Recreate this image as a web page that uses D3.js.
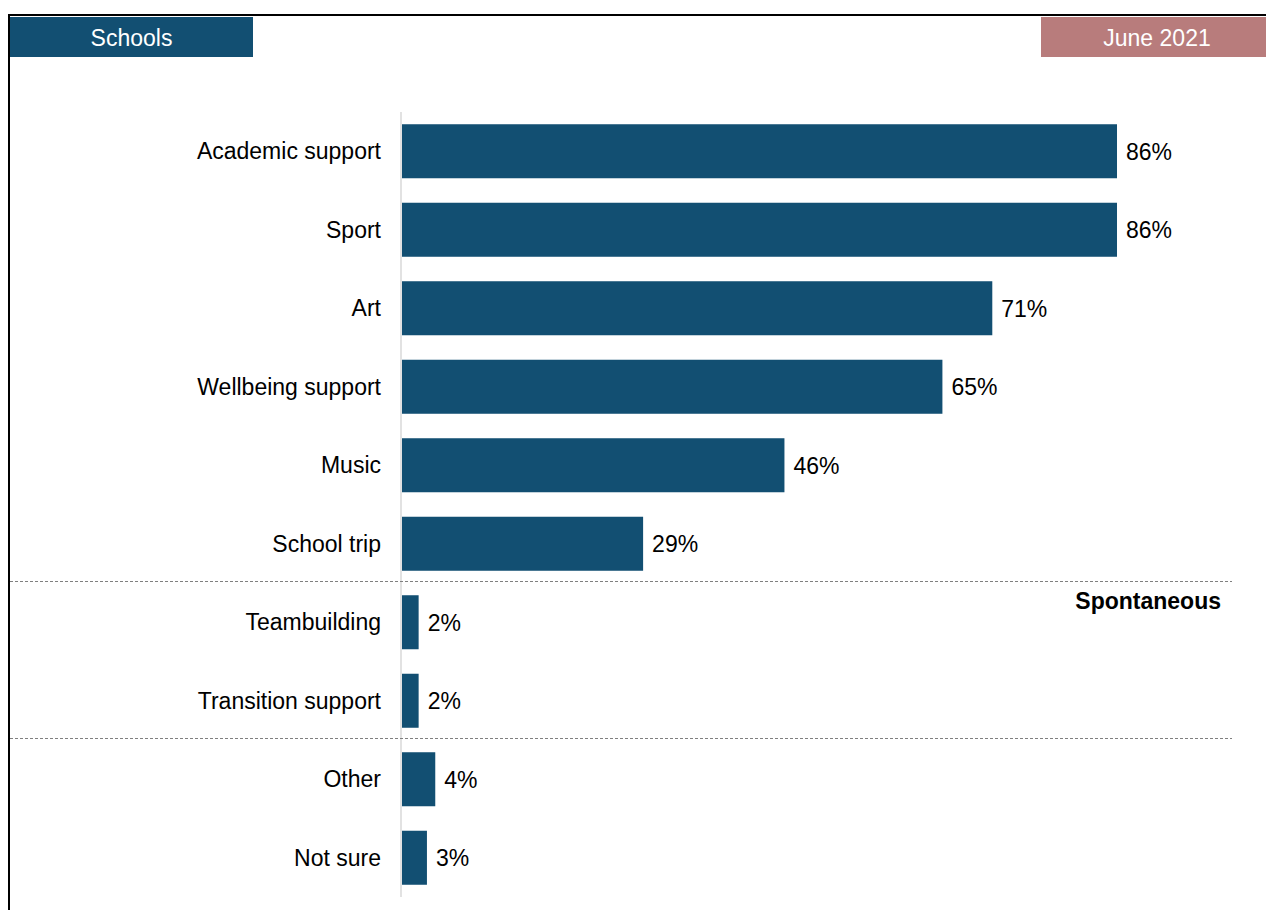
<!DOCTYPE html>
<html>
<head>
<meta charset="utf-8">
<script src="https://cdn.jsdelivr.net/npm/d3@7"></script>
<style>
  html, body { margin: 0; padding: 0; background: #fff; }
  svg { display: block; font-family: "Liberation Sans", Arial, sans-serif; }
</style>
</head>
<body>
<svg id="chart" width="1266" height="910"></svg>
<script>
// Activities offered (share of schools, %)
const categories = [
  "Academic support", "Sport", "Art", "Wellbeing support", "Music",
  "School trip", "Teambuilding", "Transition support", "Other", "Not sure"
];
const values = [86, 86, 71, 65, 46, 29, 2, 2, 4, 3];
// Dashed separators are drawn above these categories
const groupStarts = ["Teambuilding", "Other"];
const groupNote = "Spontaneous";
const headerLeft = "Schools";
const headerRight = "June 2021";

const navy = "#124f72";
const rose = "#b87c7c";
const fontSize = 23;

const svg = d3.select("#chart");

// Frame: top and left rules
svg.append("line").attr("x1", 9).attr("x2", 1266).attr("y1", 15).attr("y2", 15)
  .attr("stroke", "#000").attr("stroke-width", 2);
svg.append("line").attr("x1", 9).attr("x2", 9).attr("y1", 14).attr("y2", 910)
  .attr("stroke", "#000").attr("stroke-width", 2);

// Header tabs
svg.append("rect").attr("x", 10).attr("y", 17).attr("width", 243).attr("height", 40).attr("fill", navy);
svg.append("text").attr("x", 131.5).attr("y", 45.5).attr("text-anchor", "middle")
  .attr("fill", "#fff").attr("font-size", fontSize).text(headerLeft);
svg.append("rect").attr("x", 1041).attr("y", 17).attr("width", 225).attr("height", 40).attr("fill", rose);
svg.append("text").attr("x", 1157).attr("y", 45.5).attr("text-anchor", "middle")
  .attr("fill", "#fff").attr("font-size", fontSize).text(headerRight);

// Scales
const x0 = 402;
const x = d3.scaleLinear().domain([0, 100]).range([x0, x0 + 831.4]);
const y = d3.scaleBand().domain(categories).range([112, 897]).paddingInner(0.312).paddingOuter(0.156);

// Axis baseline
svg.append("line").attr("x1", 401).attr("x2", 401).attr("y1", 112).attr("y2", 897)
  .attr("stroke", "#d9d9d9").attr("stroke-width", 1.5);

// Bars
svg.append("g").selectAll("rect").data(categories).join("rect")
  .attr("x", x(0))
  .attr("y", d => y(d))
  .attr("width", (d, i) => x(values[i]) - x(0))
  .attr("height", y.bandwidth())
  .attr("fill", navy);

// Category labels
svg.append("g").selectAll("text").data(categories).join("text")
  .attr("x", 381)
  .attr("y", d => y(d) + y.bandwidth() / 2)
  .attr("dy", "0.35em")
  .attr("text-anchor", "end")
  .attr("font-size", fontSize)
  .attr("fill", "#000")
  .text(d => d);

// Value labels
svg.append("g").selectAll("text").data(categories).join("text")
  .attr("x", (d, i) => x(values[i]) + 9)
  .attr("y", d => y(d) + y.bandwidth() / 2)
  .attr("dy", "0.36em")
  .attr("font-size", fontSize)
  .attr("fill", "#000")
  .text((d, i) => values[i] + "%");

// Group separators
const step = y.step();
groupStarts.forEach(c => {
  const yy = Math.round(y(c) - (step - y.bandwidth()) / 2) - 1.5;
  svg.append("line").attr("x1", 10).attr("x2", 1232).attr("y1", yy).attr("y2", yy)
    .attr("stroke", "#7f7f7f").attr("stroke-width", 1).attr("stroke-dasharray", "3,2");
});

// Note for the spontaneous group
svg.append("text").attr("x", 1221).attr("y", 609).attr("text-anchor", "end")
  .attr("font-size", fontSize).attr("font-weight", "bold").attr("fill", "#000").text(groupNote);
</script>
</body>
</html>
